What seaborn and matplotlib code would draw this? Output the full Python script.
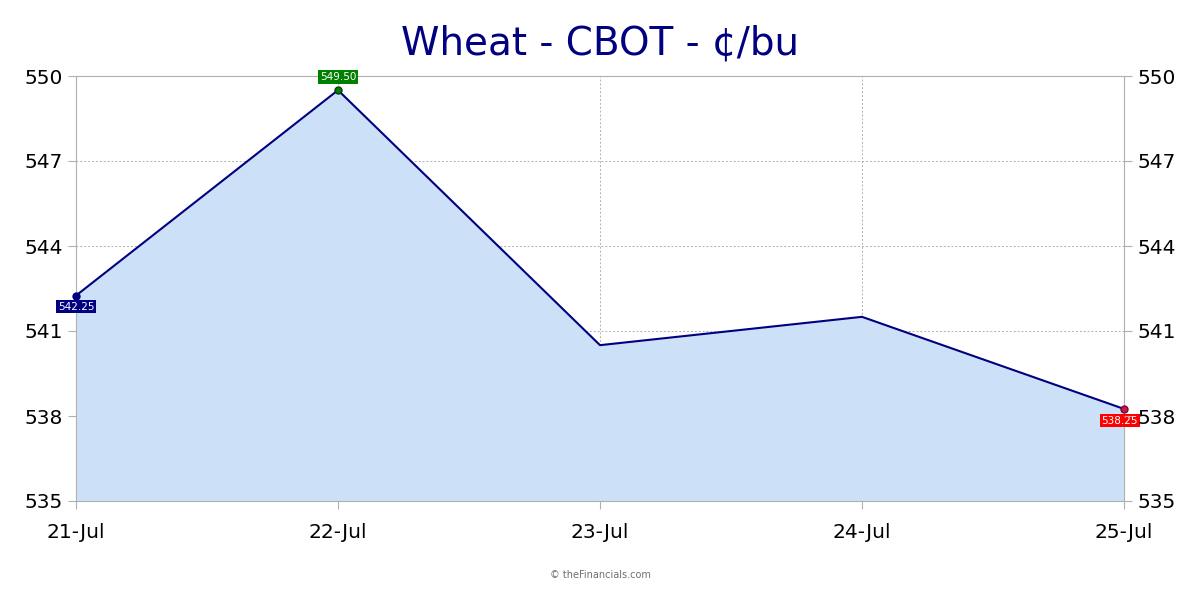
import matplotlib
matplotlib.use("Agg")
import matplotlib.pyplot as plt
import seaborn as sns
import pandas as pd

dates = ["21-Jul", "22-Jul", "23-Jul", "24-Jul", "25-Jul"]
prices = [542.25, 549.50, 540.50, 541.50, 538.25]
yticks = [535, 538, 541, 544, 547, 550]

sns.set_theme(style="white")
plt.rcParams['font.family'] = ['DejaVu Sans']

df = pd.DataFrame({"x": range(len(dates)), "price": prices})

fig = plt.figure(figsize=(12, 6), dpi=100)
ax = fig.add_axes([76/1200, 1-501/600, 1048/1200, 425/600])

ax.fill_between(df["x"], df["price"], 535, color="#cce0f7", zorder=1)
sns.lineplot(data=df, x="x", y="price", ax=ax, color="#000080", linewidth=1.5, zorder=3)

ax.set_xlim(0, len(dates) - 1)
ax.set_ylim(535, 550)
ax.set_xticks(range(len(dates)))
ax.set_xticklabels(dates)
ax.set_yticks(yticks)
ax.set_xlabel("")
ax.set_ylabel("")

ax.grid(True, color="#b0b0b0", linestyle=(0, (2, 2)), linewidth=0.7, zorder=0)
for s in ax.spines.values():
    s.set_color("#b0b0b0")
    s.set_linewidth(0.8)

ax.tick_params(axis="both", labelsize=14.5, colors="#b0b0b0", labelcolor="black",
               length=6, width=0.8, direction="out", left=True, bottom=True)
ax.tick_params(axis="x", pad=10)

ax2 = ax.twinx()
ax2.set_ylim(535, 550)
ax2.set_yticks(yticks)
ax2.tick_params(axis="y", labelsize=14.5, colors="#b0b0b0", labelcolor="black",
                length=6, width=0.8, direction="out", right=True)
for s in ax2.spines.values():
    s.set_visible(False)
ax2.grid(False)

# markers and labels for first, max, last
marks = [(0, prices[0], "#000080", "#000080", "#000080", (0, -8)),
         (1, prices[1], "#008000", "#004000", "#008000", (0, 9.5)),
         (4, prices[4], "#c02040", "#800040", "#ff0000", (-3, -8.6))]
for i, v, mc, ec, bc, off in marks:
    ax.plot(i, v, "o", color=mc, markersize=5, zorder=4,
            markeredgecolor=ec, clip_on=False)
    ax.annotate(f"{v:.2f}", (i, v), xytext=off, textcoords="offset points",
                ha="center", va="center", fontsize=7.5, color="white",
                bbox=dict(boxstyle="square,pad=0.15", fc=bc, ec="none"),
                zorder=5, annotation_clip=False)

fig.suptitle("Wheat - CBOT - ¢/bu", fontsize=28, color="#000080", y=0.928, va="center")
fig.text(0.5, 0.042, "© theFinancials.com", ha="center", va="center",
         fontsize=7, color="#707070")

fig.savefig("out.png", dpi=100, facecolor="white")
